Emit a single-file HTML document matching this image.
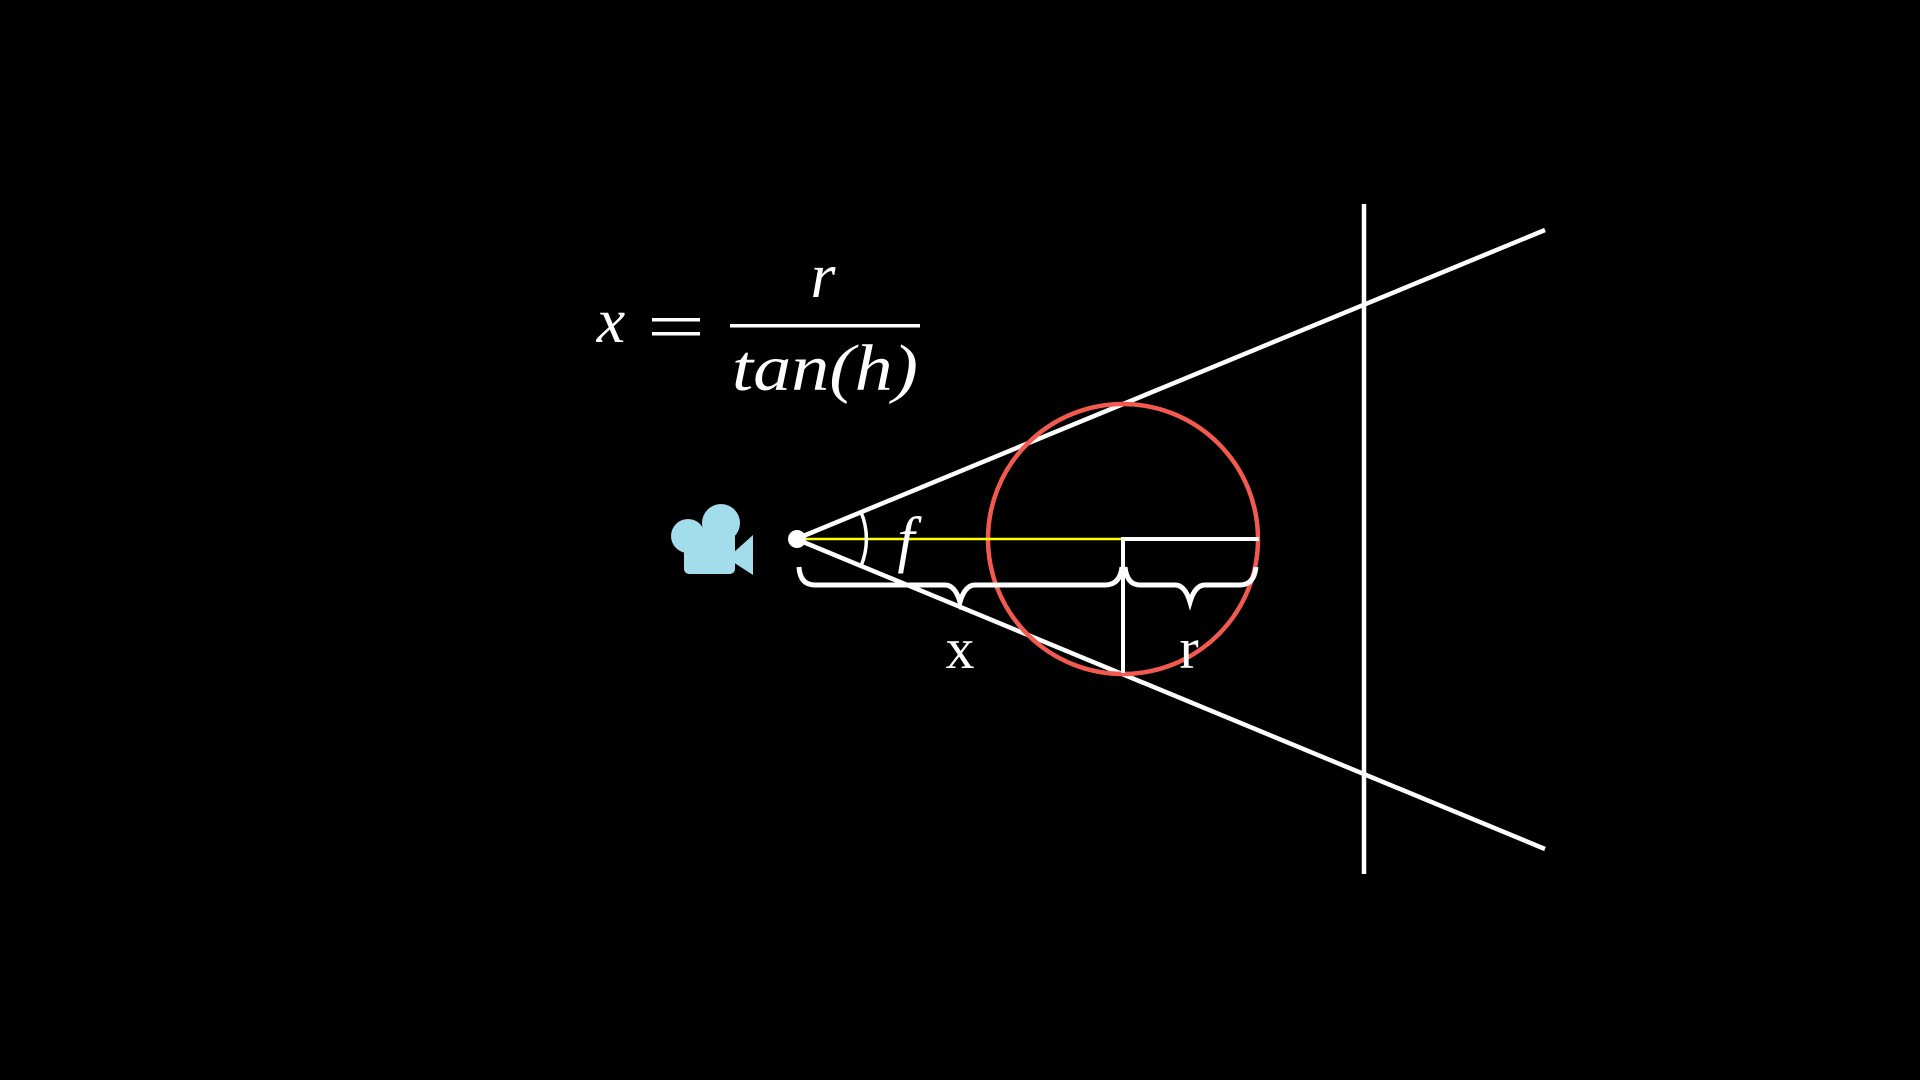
<!DOCTYPE html>
<html><head><style>html,body{margin:0;padding:0;background:#000;width:1920px;height:1080px;overflow:hidden}</style></head>
<body>
<svg width="1920" height="1080" viewBox="0 0 1920 1080" xmlns="http://www.w3.org/2000/svg">
<rect width="1920" height="1080" fill="#000"/>
<g fill="#fff" font-family="Liberation Serif, serif" font-style="italic">
<text x="611" y="342" font-size="64" text-anchor="middle">x</text>
<text x="823" y="297" font-size="64" text-anchor="middle">r</text>
<text x="732" y="390" font-size="66" textLength="186" lengthAdjust="spacingAndGlyphs">tan(h)</text>
</g>
<rect x="652" y="318" width="48" height="3.5" fill="#fff"/>
<rect x="652" y="332" width="48" height="3.5" fill="#fff"/>
<rect x="730" y="324" width="190" height="3.5" fill="#fff"/>
<line x1="1364" y1="204" x2="1364" y2="874" stroke="#fff" stroke-width="4.5"/>
<line x1="796" y1="539" x2="1545" y2="230" stroke="#fff" stroke-width="4.5"/>
<line x1="796" y1="539" x2="1545" y2="849" stroke="#fff" stroke-width="4.5"/>
<circle cx="1123" cy="539" r="135" fill="none" stroke="#f25a4f" stroke-width="4.5"/>
<line x1="796" y1="539" x2="1123" y2="539" stroke="#ffff00" stroke-width="2.5"/>
<line x1="1121" y1="539" x2="1259" y2="539" stroke="#fff" stroke-width="4"/>
<line x1="1123" y1="537" x2="1123" y2="673" stroke="#fff" stroke-width="4"/>
<path d="M861 512 A70 70 0 0 1 861 566" fill="none" stroke="#fff" stroke-width="3.5"/>
<text x="906" y="560" font-size="62" fill="#fff" font-family="Liberation Serif, serif" font-style="italic" text-anchor="middle">f</text>
<path d="M799 567 Q800 585 815 585 L945 585 Q955 585 960 602 Q965 585 975 585 L1105 585 Q1120 585 1122 567" fill="none" stroke="#fff" stroke-width="5"/>
<path d="M1125 567 Q1127 585 1140 585 L1175 585 Q1185 585 1190 602 Q1195 585 1205 585 L1240 585 Q1254 585 1256 567" fill="none" stroke="#fff" stroke-width="5"/>
<g fill="#fff" font-family="Liberation Serif, serif" font-size="58" text-anchor="middle">
<text x="960" y="668">x</text>
<text x="1189" y="668">r</text>
</g>
<circle cx="797" cy="539" r="9" fill="#fff"/>
<g fill="#a3dceb">
<circle cx="688" cy="536" r="17"/>
<circle cx="721" cy="523" r="19"/>
<rect x="684" y="532" width="51" height="42" rx="5"/>
<path d="M733 553 L753 535 L753 575 L733 562 Z"/>
</g>
</svg>
</body></html>
